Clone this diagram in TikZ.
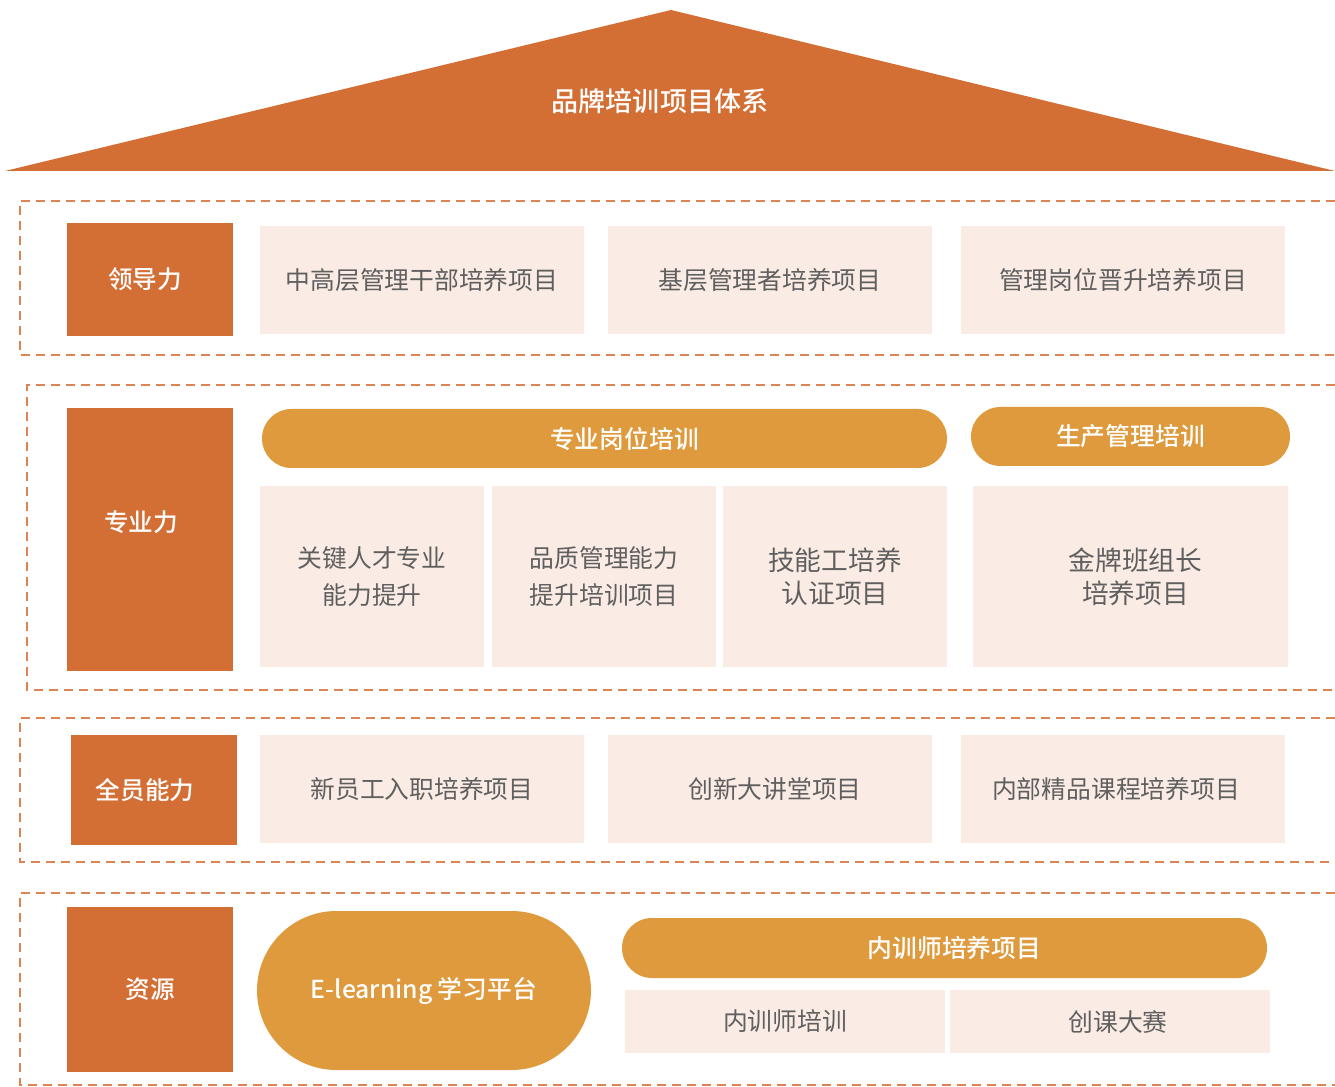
\documentclass[tikz,border=0pt]{standalone}
\usepackage{fontspec}
\setmainfont{Noto Sans CJK SC}[BoldFont={Noto Sans CJK SC Medium}]
\usepackage{xcolor}
\usepackage{tikz}
\usetikzlibrary{positioning}

\definecolor{brick}{HTML}{D36F35}
\definecolor{amber}{HTML}{DE9A3C}
\definecolor{blush}{HTML}{FAECE4}
\definecolor{ink}{HTML}{5F5F5F}

\tikzset{
  sz/.style 2 args={minimum width=#1*0.02cm, minimum height=#2*0.02cm},
  lbl/.style={fill=brick, text=white, inner sep=0pt, font=\fontsize{14}{16}\selectfont\bfseries},
  item/.style={fill=blush, text=ink, inner sep=0pt, align=center, font=\fontsize{14.1}{21.5}\selectfont},
  bigitem/.style={item, font=\fontsize{15.2}{18.7}\selectfont},
  pill/.style={fill=amber, text=white, inner sep=0pt, font=\fontsize{14.1}{16}\selectfont\bfseries},
  frame/.style={draw=brick!85, line width=1.1pt, dash pattern=on 0.18cm off 0.12cm}
}

\begin{document}
\begin{tikzpicture}[x=0.02cm, y=-0.02cm]
\useasboundingbox (0,0) rectangle (1335,1087);

% roof
\fill[brick] (5,171) -- (671,10) -- (1335,171) -- cycle;
\node[text=white, font=\fontsize{15.4}{18}\selectfont\bfseries] (title) at (660,101) {品牌培训项目体系};

% frames
\draw[frame] (1335,201) -- (20,201) -- (20,355) -- (1335,355);
\draw[frame] (1335,385) -- (27,385) -- (27,690) -- (1335,690);
\draw[frame] (1335,718) -- (20,718) -- (20,862) -- (1335,862);
\draw[frame] (1335,893) -- (20,893) -- (20,1085) -- (1335,1085);

% leadership
\node[lbl, sz={166}{113}] (lead) at (150,279.5) {\hspace*{-0.2cm}\raisebox{-0.2cm}{领导力}};
\node[item, sz={324}{108}] (lead1) at (422,280) {中高层管理干部培养项目};
\node[item, sz={324}{108}] (lead2) at (770,280) {基层管理者培养项目};
\node[item, sz={324}{108}] (lead3) at (1123,280) {管理岗位晋升培养项目};

% professional
\node[lbl, sz={166}{263}] (prof) at (150,539.5) {\hspace*{-0.36cm}\raisebox{0.72cm}{专业力}};
\node[pill, sz={685}{59}, rounded corners=0.59cm] (post) at (604.5,438.5) {\hspace*{0.8cm}专业岗位培训};
\node[pill, sz={319}{59}, rounded corners=0.59cm] (prod) at (1130.5,436.5) {生产管理培训};
\node[item, sz={224}{181}] (post1) at (372,576.5) {关键人才专业\\能力提升};
\node[item, sz={224}{181}] (post2) at (604,576.5) {品质管理能力\\提升培训项目};
\node[bigitem, sz={224}{181}] (post3) at (835,576.5) {技能工培养\\认证项目};
\node[bigitem, sz={315}{181}] (prod1) at (1130.5,576.5) {\hspace*{0.2cm}金牌班组长\\\hspace*{0.2cm}培养项目};

% all staff
\node[lbl, sz={166}{110}] (all) at (154,790) {\hspace*{-0.36cm}全员能力};
\node[item, sz={324}{108}] (all1) at (422,789) {新员工入职培养项目};
\node[item, sz={324}{108}] (all2) at (770,789) {\hspace*{0.2cm}创新大讲堂项目};
\node[item, sz={324}{108}] (all3) at (1123,789) {\hspace*{-0.28cm}内部精品课程培养项目};

% resources
\node[lbl, sz={166}{165}] (res) at (150,989.5) {资源};
\node[pill, sz={334}{159}, rounded corners=1.59cm] (elearn) at (424,990.5) {\raisebox{-0.08cm}{E-learning 学习平台}};
\node[pill, sz={645}{60}, rounded corners=0.6cm] (tutor) at (944.5,948) {\hspace*{0.4cm}内训师培养项目};
\node[item, sz={320}{63}] (tutor1) at (785,1021.5) {内训师培训};
\node[item, sz={320}{63}] (tutor2) at (1110,1021.5) {\hspace*{0.32cm}创课大赛};
\end{tikzpicture}
\end{document}
